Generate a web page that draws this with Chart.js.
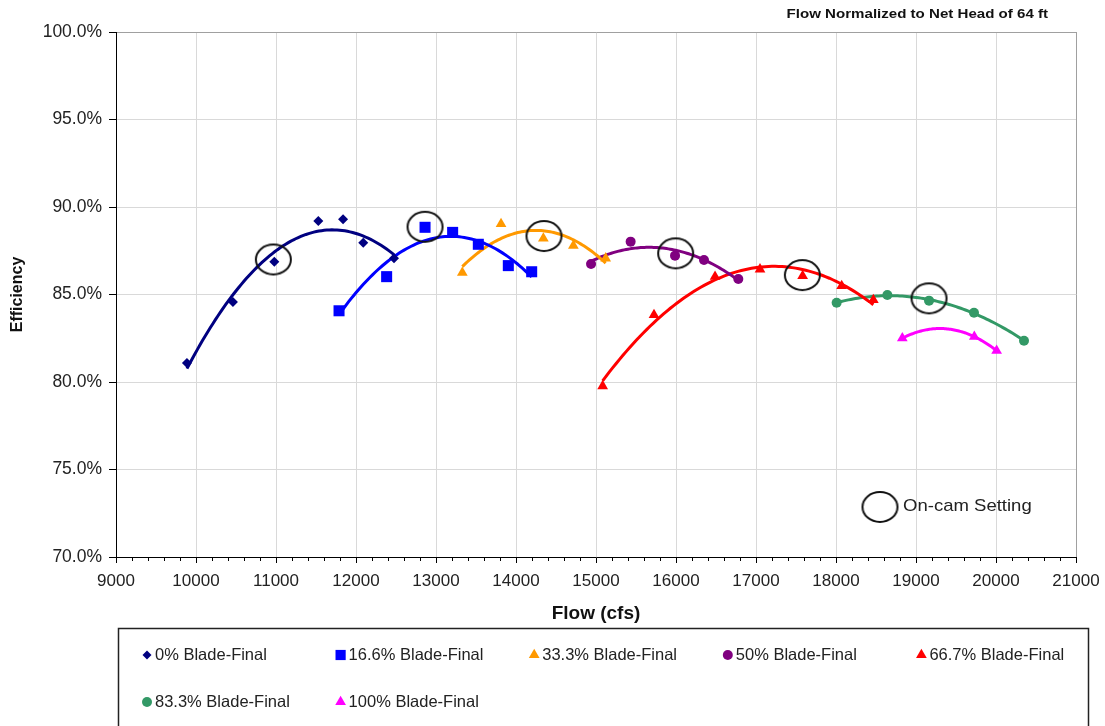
<!DOCTYPE html>
<html>
<head>
<meta charset="utf-8">
<script src="https://cdn.jsdelivr.net/npm/chart.js@4/dist/chart.umd.min.js"></script>
<style>
  html, body { margin: 0; padding: 0; background: #fff; }
  #wrap { width: 1105px; height: 726px; position: relative; }
</style>
</head>
<body>
<div id="wrap"><canvas id="c" width="1105" height="726"></canvas></div>
<script>
// ---- Test data: efficiency (%) vs. normalized flow (cfs) per blade angle ----
const seriesNames = ['0% Blade-Final', '16.6% Blade-Final', '33.3% Blade-Final', '50% Blade-Final',
                     '66.7% Blade-Final', '83.3% Blade-Final', '100% Blade-Final'];

const flow0   = [9887, 10462, 10979, 11529, 11838, 12091, 12475];
const eff0    = [81.09, 84.57, 86.87, 89.20, 89.30, 87.96, 87.07];

const flow16  = [11788, 12383, 12863, 13208, 13529, 13904, 14196];
const eff16   = [84.07, 86.02, 88.84, 88.55, 87.87, 86.65, 86.30];

const flow33  = [13329, 13813, 14342, 14717, 15121];
const eff33   = [86.25, 89.03, 88.21, 87.79, 87.07];

const flow50  = [14938, 15433, 15988, 16350, 16779];
const eff50   = [86.74, 88.02, 87.22, 86.97, 85.89];

const flow66  = [15083, 15725, 16488, 17050, 17583, 18071, 18467];
const eff66   = [79.77, 83.83, 86.02, 86.44, 86.06, 85.49, 84.69];

const flow83  = [18008, 18642, 19163, 19725, 20350];
const eff83   = [84.53, 84.97, 84.65, 83.96, 82.36];

const flow100 = [18829, 19729, 20008];
const eff100  = [82.50, 82.59, 81.79];

// On-cam operating points (circled)
const onCamFlow = [10967, 12863, 14350, 15996, 17579, 19163];
const onCamEff  = [87.00, 88.87, 88.34, 87.35, 86.11, 84.78];

// Axis ranges
const flowMin = 9000, flowMax = 21000, flowStep = 1000, flowMinorStep = 200;
const effMin = 70, effMax = 100, effStep = 5;

const noteText = 'Flow Normalized to Net Head of 64 ft';
const onCamLabel = 'On-cam Setting';

// ---- styling ----
const FONT = '"Liberation Sans", Arial, Helvetica, sans-serif';
const seriesStyles = [
  { color: '#000080', pointStyle: 'rectRot',  radius: 5,   legendRadius: 4.5 },
  { color: '#0000FF', pointStyle: 'rect',     radius: 7.8, legendRadius: 7.2 },
  { color: '#FF9900', pointStyle: 'triangle', radius: 6.2, legendRadius: 6.2 },
  { color: '#800080', pointStyle: 'circle',   radius: 5,   legendRadius: 5 },
  { color: '#FF0000', pointStyle: 'triangle', radius: 6.2, legendRadius: 6.2 },
  { color: '#339966', pointStyle: 'circle',   radius: 5,   legendRadius: 5 },
  { color: '#FF00FF', pointStyle: 'triangle', radius: 6.2, legendRadius: 6.2 }
];
const seriesFlows = [flow0, flow16, flow33, flow50, flow66, flow83, flow100];
const seriesEffs  = [eff0, eff16, eff33, eff50, eff66, eff83, eff100];

// Second-order least-squares trendline through a series
function polyTrend(xs, ys) {
  const n = xs.length;
  const mx = xs.reduce((a, b) => a + b, 0) / n;
  const S = [0, 0, 0, 0, 0], T = [0, 0, 0];
  xs.forEach((x, i) => {
    const u = (x - mx) / 1000;
    for (let k = 0; k < 5; k++) S[k] += Math.pow(u, k);
    for (let k = 0; k < 3; k++) T[k] += ys[i] * Math.pow(u, k);
  });
  const M = [[S[0], S[1], S[2], T[0]], [S[1], S[2], S[3], T[1]], [S[2], S[3], S[4], T[2]]];
  for (let c = 0; c < 3; c++) {
    let p = c;
    for (let r = c + 1; r < 3; r++) if (Math.abs(M[r][c]) > Math.abs(M[p][c])) p = r;
    [M[c], M[p]] = [M[p], M[c]];
    for (let r = 0; r < 3; r++) {
      if (r === c) continue;
      const f = M[r][c] / M[c][c];
      for (let k = c; k < 4; k++) M[r][k] -= f * M[c][k];
    }
  }
  const coef = [M[0][3] / M[0][0], M[1][3] / M[1][1], M[2][3] / M[2][2]];
  const lo = Math.min(...xs), hi = Math.max(...xs);
  const pts = [];
  const steps = 80;
  for (let i = 0; i <= steps; i++) {
    const x = lo + (hi - lo) * i / steps;
    const u = (x - mx) / 1000;
    pts.push({ x, y: coef[0] + coef[1] * u + coef[2] * u * u });
  }
  return pts;
}

// Ellipse marker for the on-cam points
function makeEllipse(w, h, lw) {
  const cv = document.createElement('canvas');
  cv.width = w + 4; cv.height = h + 4;
  const g = cv.getContext('2d');
  g.strokeStyle = '#111';
  g.lineWidth = lw;
  g.beginPath();
  g.ellipse(cv.width / 2, cv.height / 2, w / 2 - lw / 2, h / 2 - lw / 2, 0, 0, Math.PI * 2);
  g.stroke();
  return cv;
}
const onCamMarker = makeEllipse(37, 32, 2);

const datasets = [];
seriesNames.forEach((name, i) => {
  const st = seriesStyles[i];
  datasets.push({
    label: name,
    isSeries: true,
    legendRadius: st.legendRadius,
    data: seriesFlows[i].map((x, j) => ({ x, y: seriesEffs[i][j] })),
    showLine: false,
    pointStyle: st.pointStyle,
    pointRadius: st.radius,
    backgroundColor: st.color,
    borderColor: st.color,
    pointBorderWidth: 0,
    order: 1
  });
  datasets.push({
    label: name + ' trend',
    data: polyTrend(seriesFlows[i], seriesEffs[i]),
    showLine: true,
    pointRadius: 0,
    borderColor: st.color,
    borderWidth: 3,
    tension: 0,
    fill: false,
    order: 2
  });
});
datasets.push({
  label: onCamLabel,
  data: onCamFlow.map((x, j) => ({ x, y: onCamEff[j] })),
  showLine: false,
  pointStyle: onCamMarker,
  pointRadius: 16,
  order: 0
});

// Draws text stretched horizontally so it spans the given width
function fillTextWide(ctx, text, x, y, sx, align) {
  ctx.save();
  ctx.translate(x, y);
  ctx.scale(sx, 1);
  ctx.textAlign = align;
  ctx.fillText(text, 0, 0);
  ctx.restore();
}

// Decorations: note, on-cam key, minor ticks, boxed legend
const decorations = {
  id: 'decorations',
  afterDraw(chart) {
    const { ctx, chartArea, scales } = chart;
    const xs = scales.x;
    ctx.save();

    // minor tick marks on the flow axis
    ctx.strokeStyle = '#000';
    ctx.lineWidth = 1;
    ctx.beginPath();
    for (let v = flowMin; v <= flowMax; v += flowMinorStep) {
      if (v % flowStep === 0) continue;
      const px = Math.round(xs.getPixelForValue(v)) + 0.5;
      ctx.moveTo(px, chartArea.bottom);
      ctx.lineTo(px, chartArea.bottom + 4);
    }
    ctx.stroke();

    // note in the top-right corner
    ctx.fillStyle = '#111';
    ctx.font = 'bold 13px ' + FONT;
    ctx.textBaseline = 'alphabetic';
    fillTextWide(ctx, noteText, 1048, 18, 1.16, 'right');

    // on-cam key inside the plot
    ctx.drawImage(onCamMarker, 880 - onCamMarker.width / 2, 507 - onCamMarker.height / 2);
    ctx.font = '17px ' + FONT;
    ctx.textBaseline = 'middle';
    ctx.fillStyle = '#222';
    fillTextWide(ctx, onCamLabel, 903, 506, 1.09, 'left');

    // boxed legend below the chart
    ctx.strokeStyle = '#222';
    ctx.lineWidth = 1.5;
    ctx.strokeRect(118.5, 628.5, 970, 120);
    const items = chart.data.datasets.filter(d => d.isSeries);
    ctx.font = '16.5px ' + FONT;
    ctx.textAlign = 'left';
    items.forEach((d, i) => {
      const col = i % 5, row = Math.floor(i / 5);
      const mx = 147 + col * 193.6;
      const my = row === 0 ? 655 : 702;
      ctx.fillStyle = d.backgroundColor;
      ctx.strokeStyle = d.backgroundColor;
      Chart.helpers.drawPoint(ctx, { pointStyle: d.pointStyle, radius: d.legendRadius, borderWidth: 0, rotation: 0 }, mx, my);
      ctx.fillStyle = '#222';
      ctx.fillText(d.label, mx + 8, my);
    });
    ctx.restore();
  }
};

Chart.defaults.font.family = FONT;
Chart.defaults.color = '#222';

new Chart(document.getElementById('c'), {
  type: 'scatter',
  data: { datasets },
  options: {
    responsive: false,
    animation: false,
    events: [],
    layout: { padding: { left: 0, top: 32, right: 29, bottom: 99 } },
    plugins: { legend: { display: false }, tooltip: { enabled: false } },
    scales: {
      x: {
        type: 'linear',
        min: flowMin, max: flowMax,
        afterFit(s) { s.height = 70; s.paddingLeft = 0; s.paddingRight = 0; },
        ticks: {
          stepSize: flowStep, autoSkip: false, maxRotation: 0,
          padding: 8,
          font: { size: 17 }, color: '#222',
          callback: v => String(v)
        },
        grid: {
          color: c => (c.tick && c.tick.value === flowMax) ? '#a0a0a0' : '#d9d9d9',
          lineWidth: 1,
          tickColor: '#000',
          tickLength: 6
        },
        border: { display: true, color: '#000', width: 1 },
        title: { display: true, text: 'Flow (cfs)', font: { size: 19, weight: 'bold' }, color: '#111', padding: { top: 0, bottom: 2 } }
      },
      y: {
        type: 'linear',
        min: effMin, max: effMax,
        afterFit(s) { s.width = 116; s.paddingTop = 0; s.paddingBottom = 0; },
        ticks: {
          stepSize: effStep,
          padding: 7,
          font: { size: 17.5 }, color: '#222',
          callback: v => v.toFixed(1) + '%'
        },
        grid: {
          color: c => (c.tick && c.tick.value === effMax) ? '#a0a0a0' : '#d9d9d9',
          lineWidth: 1,
          tickColor: '#000',
          tickLength: 7
        },
        border: { display: true, color: '#000', width: 1 },
        title: { display: true, text: 'Efficiency', font: { size: 16, weight: 'bold' }, color: '#111', padding: { top: 8, bottom: 0 } }
      }
    }
  },
  plugins: [decorations]
});
</script>
</body>
</html>
